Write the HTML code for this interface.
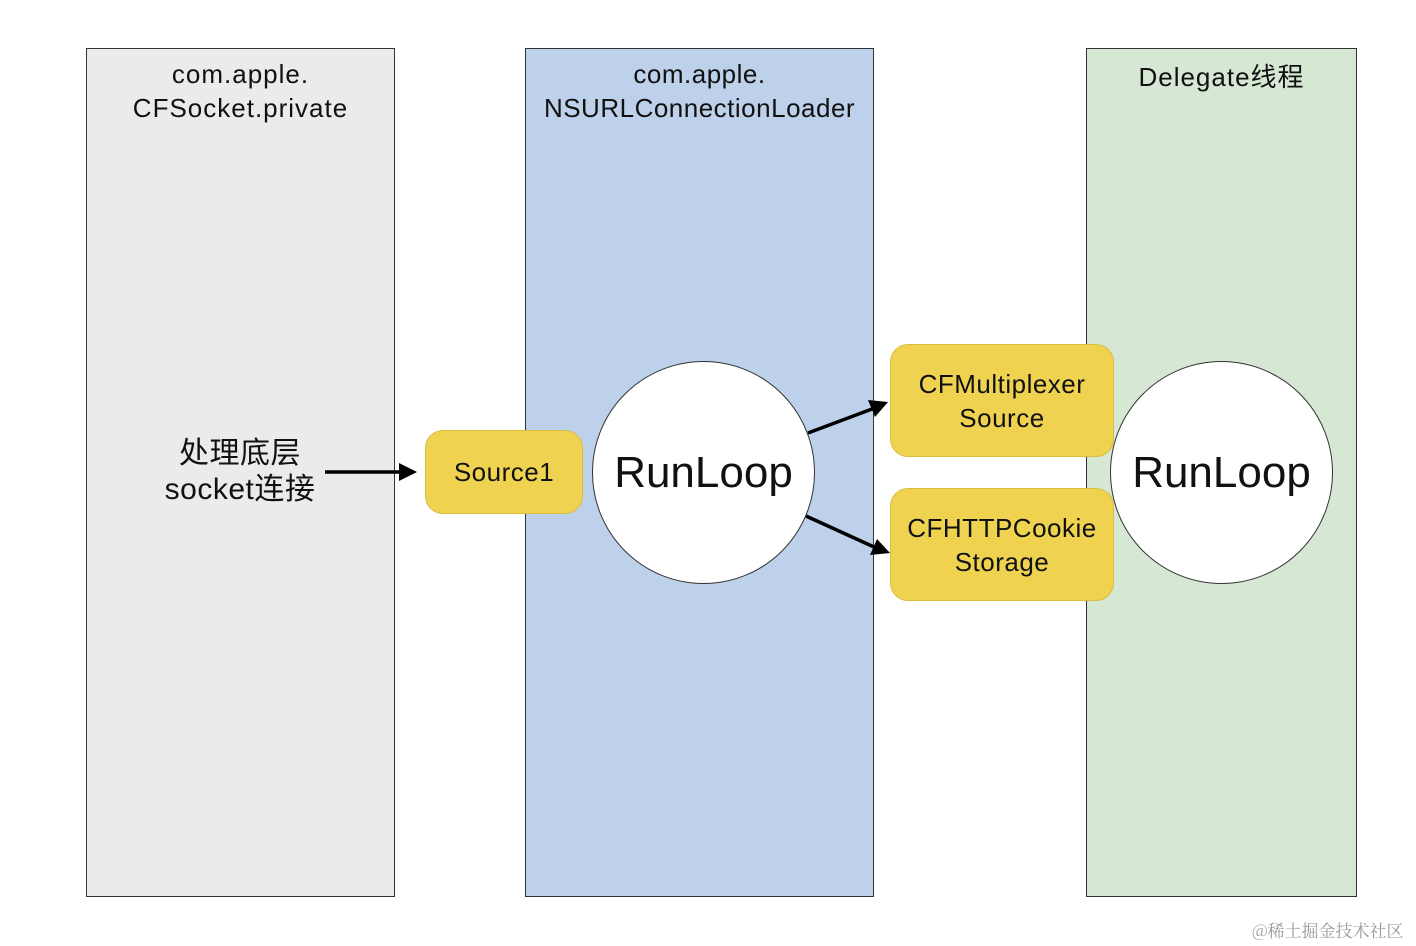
<!DOCTYPE html>
<html><head><meta charset="utf-8"><style>
body{margin:0;width:1416px;height:946px;background:#fff;position:relative;overflow:hidden;font-family:"Liberation Sans","Noto Sans CJK SC",sans-serif;}
div{position:absolute;box-sizing:border-box}
.lane{border:1px solid #333;}
.t{text-align:center;color:#111;font-size:26px;line-height:34px;letter-spacing:1px}
.y{background:#efd350;border:1px solid #d9bd3f;border-radius:18px;display:flex;align-items:center;justify-content:center;text-align:center;font-size:26px;line-height:34px;color:#111;letter-spacing:0.5px}
.c{background:#fff;border:1px solid #333;border-radius:50%;display:flex;align-items:center;justify-content:center;font-size:44px;color:#111}
</style></head><body>
<div class="lane" style="left:86px;top:48px;width:309px;height:849px;background:#ebebeb"></div>
<div class="lane" style="left:525px;top:48px;width:349px;height:849px;background:#bdd1ea"></div>
<div class="lane" style="left:1086px;top:48px;width:271px;height:849px;background:#d6e8d4"></div>
<div class="t" style="left:86px;top:57px;width:309px">com.apple.<br>CFSocket.private</div>
<div class="t" style="left:525px;top:57px;width:349px;letter-spacing:0.5px">com.apple.<br>NSURLConnectionLoader</div>
<div class="t" style="left:1086px;top:60px;width:271px">Delegate线程</div>
<div class="t" style="left:130px;top:436px;width:220px;font-size:30px;line-height:36px;letter-spacing:0.5px">处理底层<br>socket连接</div>
<div class="y" style="left:425px;top:430px;width:158px;height:84px">Source1</div>
<div class="c" style="left:592px;top:361px;width:223px;height:223px">RunLoop</div>
<div class="y" style="left:890px;top:344px;width:224px;height:113px">CFMultiplexer<br>Source</div>
<div class="y" style="left:890px;top:488px;width:224px;height:113px">CFHTTPCookie<br>Storage</div>
<div class="c" style="left:1110px;top:361px;width:223px;height:223px">RunLoop</div>
<svg style="position:absolute;left:0;top:0" width="1416" height="946">
<g stroke="#000" stroke-width="3.5" fill="none">
<line x1="325" y1="472" x2="402" y2="472"/>
<line x1="808" y1="433" x2="872" y2="409"/>
<line x1="806" y1="516" x2="874" y2="547"/>
</g>
<g fill="#000">
<polygon points="417,472 399,463 399,481"/>
<polygon points="888,402 868,400 875,417"/>
<polygon points="890,553 877,539 870,555"/>
</g>
</svg>
<div style="left:1252px;top:917px;font-size:17px;color:#999;font-family:'Noto Serif CJK SC',serif">@稀土掘金技术社区</div>
</body></html>
